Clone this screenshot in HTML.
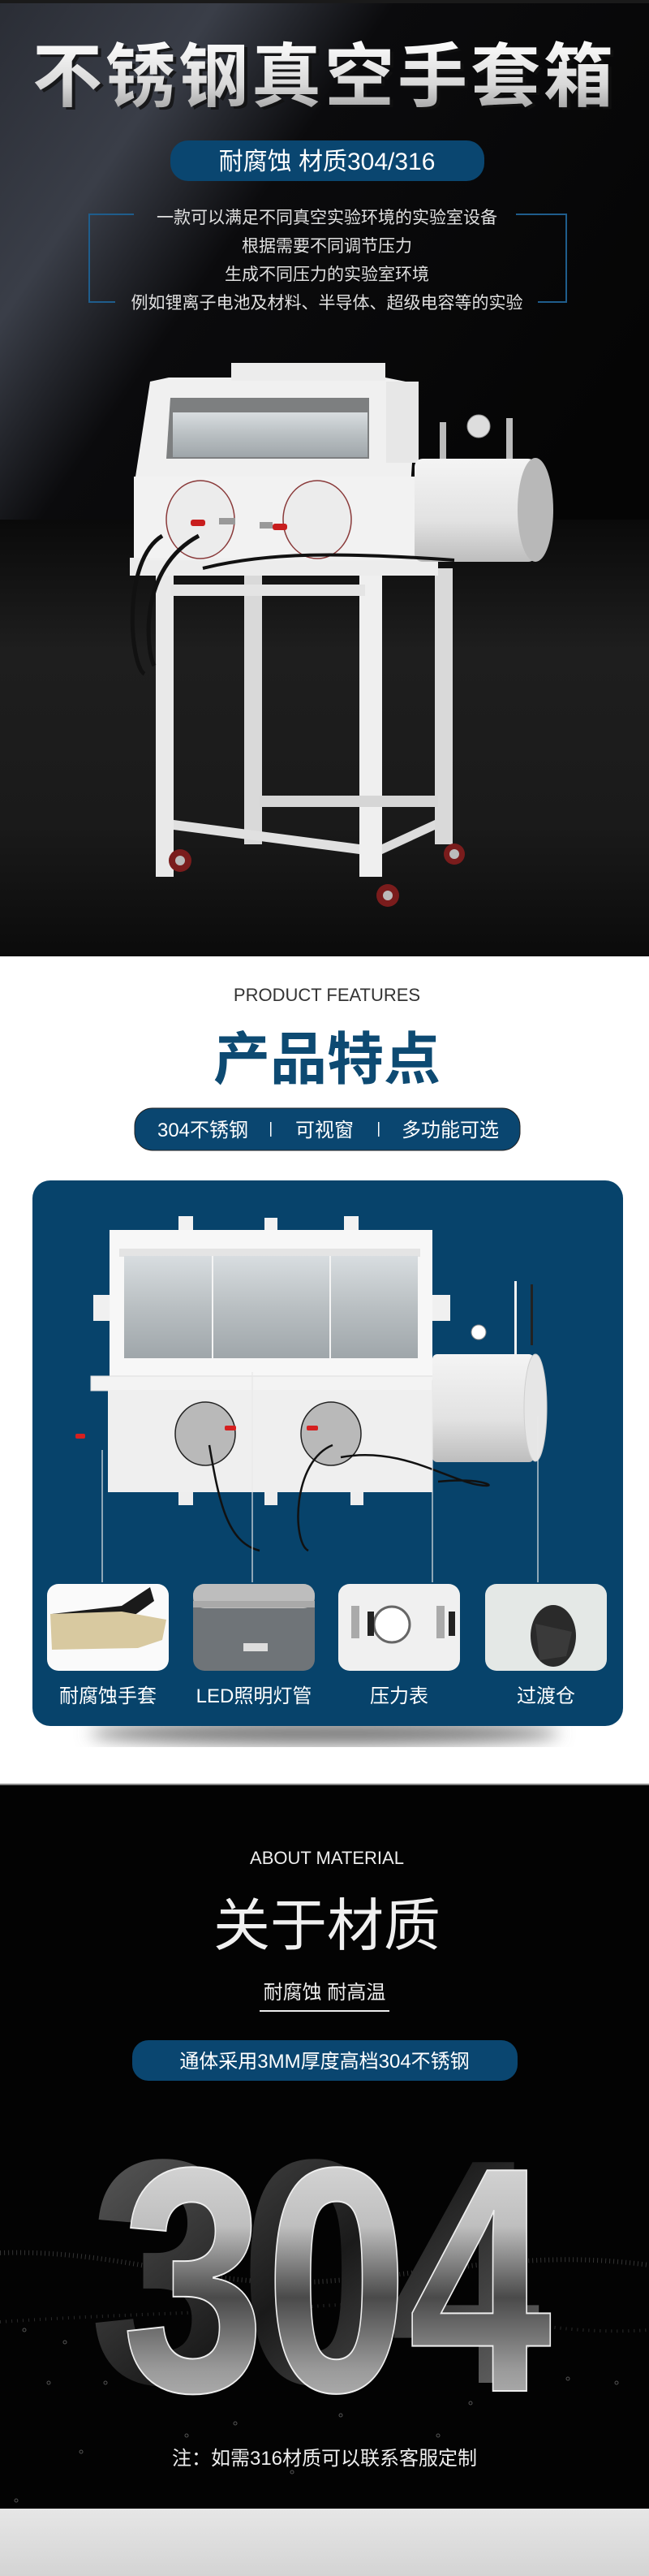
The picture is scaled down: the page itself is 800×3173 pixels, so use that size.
<!DOCTYPE html>
<html><head><meta charset="utf-8"><style>
html,body{margin:0;padding:0;background:#fff}
svg{display:block}
text{font-family:"Liberation Sans","Noto Sans CJK SC",sans-serif}
</style></head><body>
<svg width="800" height="3173" viewBox="0 0 800 3173" xmlns="http://www.w3.org/2000/svg">
<defs>
<linearGradient id="streak" x1="0" y1="0" x2="1" y2="0.6">
<stop offset="0" stop-color="#2a2d35"/><stop offset="0.25" stop-color="#3a3e48"/><stop offset="0.45" stop-color="#0b0b0d"/><stop offset="1" stop-color="#050505"/></linearGradient>
<linearGradient id="floorg" x1="0" y1="0" x2="0" y2="1"><stop offset="0" stop-color="#0a0a0a"/><stop offset="0.3" stop-color="#1e1e1e"/><stop offset="0.7" stop-color="#1a1a1a"/><stop offset="1" stop-color="#0b0b0b"/></linearGradient>
<linearGradient id="title" x1="0" y1="0" x2="0" y2="1"><stop offset="0" stop-color="#ffffff"/><stop offset="0.6" stop-color="#d8d8d8"/><stop offset="1" stop-color="#9a9a9a"/></linearGradient>
<linearGradient id="metal" x1="0" y1="0" x2="0" y2="1"><stop offset="0" stop-color="#e8e8e8"/><stop offset="0.35" stop-color="#bfbfbf"/><stop offset="0.55" stop-color="#4a4a4a"/><stop offset="0.75" stop-color="#9a9a9a"/><stop offset="1" stop-color="#d0d0d0"/></linearGradient>
<linearGradient id="metalside" x1="0" y1="0" x2="1" y2="1"><stop offset="0" stop-color="#666"/><stop offset="0.5" stop-color="#1a1a1a"/><stop offset="1" stop-color="#777"/></linearGradient>
<linearGradient id="glass" x1="0" y1="0" x2="0" y2="1"><stop offset="0" stop-color="#d8dde0"/><stop offset="0.5" stop-color="#b9bfc2"/><stop offset="1" stop-color="#9fa6aa"/></linearGradient>
<linearGradient id="cyl" x1="0" y1="0" x2="0" y2="1"><stop offset="0" stop-color="#f4f4f4"/><stop offset="0.6" stop-color="#e2e2e2"/><stop offset="1" stop-color="#bdbdbd"/></linearGradient>
<linearGradient id="grayband" x1="0" y1="0" x2="0" y2="1"><stop offset="0" stop-color="#e6e6e6"/><stop offset="1" stop-color="#d4d4d4"/></linearGradient>
<filter id="blur"><feGaussianBlur stdDeviation="10"/></filter>
</defs>

<!-- HERO -->
<rect x="0" y="0" width="800" height="1178" fill="#060606"/>
<rect x="0" y="0" width="800" height="700" fill="url(#streak)"/>
<rect x="0" y="640" width="800" height="538" fill="url(#floorg)"/>
<rect x="0" y="0" width="800" height="4" fill="#1a1a1a"/>

<text x="404" y="127" font-size="86" font-weight="bold" text-anchor="middle" fill="#111" opacity="0.8" letter-spacing="4">不锈钢真空手套箱</text>
<text x="400" y="124" font-size="86" font-weight="bold" text-anchor="middle" fill="url(#title)" letter-spacing="4">不锈钢真空手套箱</text>

<rect x="210" y="173" width="387" height="50" rx="22" fill="#0a4670"/>
<text x="403" y="209" font-size="30" text-anchor="middle" fill="#fff">耐腐蚀 材质304/316</text>

<g stroke="#1f5d8c" stroke-width="2" fill="none">
<path d="M165 264 H110 V372 H142"/>
<path d="M636 264 H698 V372 H663"/>
</g>
<g font-size="21" fill="#e0e0e0" text-anchor="middle">
<text x="403" y="275">一款可以满足不同真空实验环境的实验室设备</text>
<text x="403" y="310">根据需要不同调节压力</text>
<text x="403" y="345">生成不同压力的实验室环境</text>
<text x="403" y="380">例如锂离子电池及材料、半导体、超级电容等的实验</text>
</g>

<!-- hero machine -->
<g>
<rect x="192" y="690" width="22" height="390" fill="#e9e9e9"/>
<rect x="301" y="700" width="22" height="340" fill="#d9d9d9"/>
<rect x="536" y="700" width="22" height="340" fill="#d9d9d9"/>
<rect x="443" y="700" width="28" height="380" fill="#efefef"/>
<rect x="160" y="687" width="380" height="22" fill="#ececec"/>
<rect x="210" y="720" width="240" height="14" fill="#e4e4e4"/>
<rect x="320" y="980" width="220" height="14" fill="#d6d6d6"/>
<polygon points="214,1010 443,1040 443,1052 214,1022" fill="#e0e0e0"/>
<polygon points="471,1040 536,1010 536,1022 471,1052" fill="#dcdcdc"/>
<circle cx="222" cy="1060" r="14" fill="#7a1c1c"/><circle cx="222" cy="1060" r="6" fill="#bbb"/>
<circle cx="478" cy="1103" r="14" fill="#7a1c1c"/><circle cx="478" cy="1103" r="6" fill="#bbb"/>
<circle cx="560" cy="1052" r="13" fill="#7a1c1c"/><circle cx="560" cy="1052" r="6" fill="#bbb"/>
<polygon points="208,465 475,465 500,470 510,540 500,690 185,690 165,600 185,470" fill="#f0f0f0"/>
<rect x="285" y="447" width="190" height="22" fill="#ececec"/>
<rect x="476" y="470" width="40" height="100" fill="#e7e7e7"/>
<polygon points="210,490 455,490 455,565 205,565" fill="#7d7f80"/>
<rect x="213" y="508" width="240" height="55" fill="url(#glass)"/>
<rect x="165" y="587" width="355" height="100" fill="#f2f2f2"/>
<ellipse cx="247" cy="640" rx="42" ry="48" fill="#ececec" stroke="#8a3a3a" stroke-width="1.5"/>
<ellipse cx="391" cy="640" rx="42" ry="48" fill="#ececec" stroke="#8a3a3a" stroke-width="1.5"/>
<rect x="235" y="640" width="18" height="8" rx="3" fill="#c81e1e"/>
<rect x="336" y="645" width="18" height="8" rx="3" fill="#c81e1e"/>
<rect x="270" y="638" width="20" height="8" fill="#999"/>
<rect x="320" y="643" width="16" height="8" fill="#999"/>
<rect x="511" y="565" width="150" height="127" rx="10" fill="url(#cyl)"/>
<ellipse cx="660" cy="628" rx="22" ry="64" fill="#b8b8b8"/>
<circle cx="590" cy="525" r="14" fill="#ddd" stroke="#999"/>
<rect x="542" y="520" width="8" height="45" fill="#bbb"/>
<rect x="624" y="515" width="8" height="50" fill="#bbb"/>
<path d="M200 660 C150 690 160 820 178 830 M245 660 C170 700 180 800 190 820" stroke="#111" stroke-width="5" fill="none"/>
<path d="M250 700 C330 680 420 680 560 690" stroke="#111" stroke-width="4" fill="none"/>
</g>

<!-- SECTION 2 -->
<rect x="0" y="1178" width="800" height="1020" fill="#ffffff"/>
<text x="403" y="1233" font-size="22" text-anchor="middle" fill="#333">PRODUCT FEATURES</text>
<text x="403" y="1329" font-size="70" font-weight="bold" text-anchor="middle" fill="#0d4a72">产品特点</text>
<rect x="166" y="1365" width="475" height="52" rx="22" fill="#0a4670" stroke="#222" stroke-width="1"/>
<g font-size="24" fill="#fff" text-anchor="middle">
<text x="250" y="1400">304不锈钢</text>
<text x="400" y="1400">可视窗</text>
<text x="555" y="1400">多功能可选</text>
</g>
<rect x="333" y="1382" width="1.5" height="18" fill="#fff"/>
<rect x="466" y="1382" width="1.5" height="18" fill="#fff"/>

<ellipse cx="400" cy="2135" rx="290" ry="14" fill="#777" filter="url(#blur)"/>
<rect x="40" y="1454" width="728" height="672" rx="22" fill="#07436b"/>

<g>
<rect x="220" y="1498" width="18" height="20" fill="#f2f2f2"/>
<rect x="326" y="1500" width="16" height="18" fill="#f2f2f2"/>
<rect x="424" y="1498" width="18" height="20" fill="#f2f2f2"/>
<rect x="115" y="1595" width="440" height="32" fill="#f0f0f0"/>
<rect x="135" y="1515" width="398" height="180" fill="#f7f7f7"/>
<rect x="147" y="1538" width="371" height="10" fill="#e4e4e4"/>
<rect x="153" y="1547" width="362" height="126" fill="url(#glass)"/>
<rect x="261" y="1547" width="2" height="126" fill="#f4f4f4"/>
<rect x="406" y="1547" width="2" height="126" fill="#f4f4f4"/>
<rect x="112" y="1695" width="443" height="18" fill="#f3f3f3" stroke="#ddd"/>
<rect x="133" y="1712" width="400" height="126" fill="#efefef"/>
<rect x="220" y="1838" width="18" height="16" fill="#eee"/>
<rect x="326" y="1838" width="16" height="16" fill="#eee"/>
<rect x="432" y="1838" width="16" height="16" fill="#eee"/>
<rect x="533" y="1668" width="125" height="133" rx="6" fill="url(#cyl)"/>
<ellipse cx="660" cy="1734" rx="14" ry="66" fill="#e6e6e6" stroke="#cfcfcf"/>
<ellipse cx="253" cy="1766" rx="37" ry="39" fill="#b9b9b9" stroke="#222" stroke-width="1.5"/>
<ellipse cx="408" cy="1766" rx="37" ry="39" fill="#b9b9b9" stroke="#222" stroke-width="1.5"/>
<rect x="277" y="1756" width="14" height="6" rx="2" fill="#d52020"/>
<rect x="378" y="1756" width="14" height="6" rx="2" fill="#d52020"/>
<rect x="93" y="1766" width="12" height="6" rx="2" fill="#d52020"/>
<circle cx="590" cy="1641" r="9" fill="#fff" stroke="#888"/>
<rect x="634" y="1578" width="3" height="90" fill="#f2f2f2"/>
<rect x="654" y="1582" width="3" height="75" fill="#222"/>
<path d="M258 1780 C270 1850 280 1900 320 1910 M410 1780 C360 1800 360 1900 380 1910 M420 1795 C500 1780 560 1830 600 1830 C610 1830 590 1820 540 1825" stroke="#111" stroke-width="2.5" fill="none"/>
</g>
<g stroke="#e8e8e8" stroke-width="1.2">
<line x1="126" y1="1786" x2="126" y2="1949"/>
<line x1="311" y1="1690" x2="311" y2="1949"/>
<line x1="533" y1="1700" x2="533" y2="1949"/>
<line x1="663" y1="1745" x2="663" y2="1949"/>
</g>

<rect x="58" y="1951" width="150" height="107" rx="14" fill="#fafafa"/>
<polygon points="64,1988 150,1978 185,1955 190,1972 165,1990 100,2000 66,2006" fill="#1a1a1a"/>
<polygon points="62,1988 150,1985 205,1995 200,2020 170,2030 64,2032" fill="#d8c9a0"/>
<rect x="238" y="1951" width="150" height="107" rx="14" fill="#6f7478"/>
<rect x="238" y="1951" width="150" height="30" rx="14" fill="#bdbdbd"/>
<rect x="238" y="1972" width="150" height="8" fill="#a9a9a9"/>
<rect x="300" y="2024" width="30" height="10" fill="#ddd"/>
<rect x="417" y="1951" width="150" height="107" rx="14" fill="#f0f0f0"/>
<circle cx="483" cy="2001" r="22" fill="#fff" stroke="#666" stroke-width="3"/>
<rect x="433" y="1978" width="10" height="40" fill="#aaa"/><rect x="453" y="1985" width="8" height="30" fill="#222"/>
<rect x="538" y="1978" width="10" height="40" fill="#aaa"/><rect x="553" y="1985" width="8" height="30" fill="#222"/>
<rect x="598" y="1951" width="150" height="107" rx="14" fill="#e4e8e6"/>
<ellipse cx="682" cy="2015" rx="28" ry="38" fill="#2a2a2a"/>
<polygon points="660,2000 705,2010 698,2040 665,2045" fill="#3a3a3a"/>
<g font-size="24" fill="#fff" text-anchor="middle">
<text x="133" y="2097">耐腐蚀手套</text>
<text x="313" y="2097">LED照明灯管</text>
<text x="492" y="2097">压力表</text>
<text x="673" y="2097">过渡仓</text>
</g>

<!-- SECTION 3 -->
<rect x="0" y="2197" width="800" height="2" fill="#888"/>
<rect x="0" y="2199" width="800" height="892" fill="#030303"/>
<text x="403" y="2296" font-size="22" text-anchor="middle" fill="#eee">ABOUT MATERIAL</text>
<text x="403" y="2396" font-size="70" text-anchor="middle" fill="#f0f0f0">关于材质</text>
<text x="400" y="2462" font-size="24" text-anchor="middle" fill="#eee">耐腐蚀 耐高温</text>
<rect x="320" y="2476" width="160" height="2" fill="#eee"/>
<rect x="163" y="2513" width="475" height="50" rx="20" fill="#0a4670"/>
<text x="400" y="2547" font-size="24" text-anchor="middle" fill="#fff">通体采用3MM厚度高档304不锈钢</text>

<g fill="none" stroke="#555" stroke-width="1">
<circle cx="30" cy="2870" r="2"/><circle cx="80" cy="2885" r="2"/><circle cx="130" cy="2935" r="2"/><circle cx="60" cy="2935" r="2"/>
<circle cx="230" cy="3000" r="2"/><circle cx="290" cy="2985" r="2"/><circle cx="420" cy="2975" r="2"/><circle cx="580" cy="2960" r="2"/>
<circle cx="700" cy="2930" r="2"/><circle cx="760" cy="2935" r="2"/><circle cx="100" cy="3020" r="2"/><circle cx="360" cy="3045" r="2"/>
<circle cx="20" cy="3080" r="2"/><circle cx="650" cy="2890" r="2"/><circle cx="540" cy="3000" r="2"/>
</g>
<path d="M0 2775 C150 2770 250 2820 400 2810 C550 2800 650 2770 800 2790" stroke="#333" stroke-width="6" stroke-dasharray="1 4" fill="none"/>
<path d="M0 2860 C150 2850 250 2850 400 2840 C550 2830 650 2880 800 2870" stroke="#2a2a2a" stroke-width="4" stroke-dasharray="1 6" fill="none"/>

<text x="110" y="2935" font-size="395" font-weight="bold" textLength="556" lengthAdjust="spacingAndGlyphs" fill="url(#metalside)">304</text>
<text x="150" y="2945" font-size="395" font-weight="bold" textLength="530" lengthAdjust="spacingAndGlyphs" fill="url(#metal)" stroke="#eee" stroke-width="2">304</text>

<text x="400" y="3036" font-size="24" text-anchor="middle" fill="#eee">注：如需316材质可以联系客服定制</text>

<rect x="0" y="3090" width="800" height="83" fill="url(#grayband)"/>
</svg>
</body></html>
